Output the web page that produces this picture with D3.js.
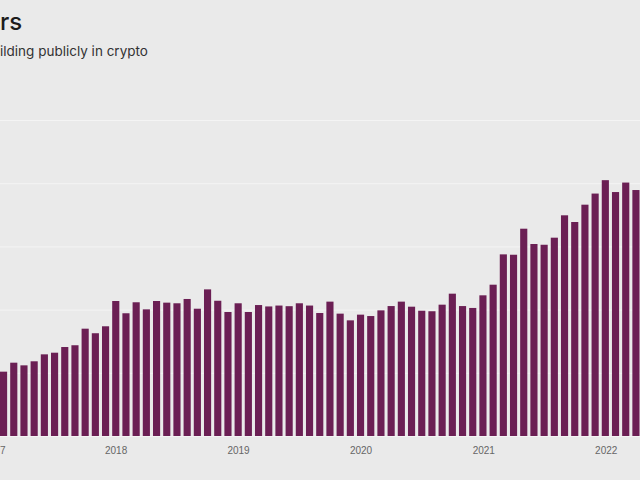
<!DOCTYPE html>
<html>
<head>
<meta charset="utf-8">
<script src="https://cdn.jsdelivr.net/npm/d3@7"></script>
<style>
  html, body { margin: 0; padding: 0; background: #eaeaea; overflow: hidden; }
  svg { display: block; font-family: Inter, "Noto Sans", sans-serif; }
</style>
</head>
<body>
<svg width="640" height="480"></svg>
<script>
// months Feb 2017 .. Apr 2022
var startMonth = "2017-02";
var developers = [
    5090, 5800, 5590, 5910, 6460, 6590, 7040, 7180, 8490, 8130, 8680,
    10680, 9710, 10580, 10020, 10680, 10550, 10500, 10840, 10070, 11600, 10700, 9810,
    10500, 9810, 10360, 10250, 10320, 10270, 10500, 10320, 9730, 10630, 9680, 9150,
    9600, 9490, 9940, 10280, 10630, 10230, 9910, 9870, 10390, 11260, 10280, 10130,
    11130, 11970, 14370, 14340, 16400, 15190, 15130, 15690, 17460, 16930, 18300, 19180,
    20240, 19300, 20050, 19460
];
var yearTicks = ["2017", "2018", "2019", "2020", "2021", "2022"];
// what is visible of each year label (2017 is cut by the left edge)
var yearLabels = ["7", "2018", "2019", "2020", "2021", "2022"];
var yTicks = [0, 5000, 10000, 15000, 20000, 25000];
var titleText = "rs";
var subtitleText = "ilding publicly in crypto";

var svg = d3.select("svg"),
    width = +svg.attr("width");

var parseMonth = d3.utcParse("%Y-%m");
var first = parseMonth(startMonth);
var months = developers.map(function (d, i) {
    return d3.utcMonth.offset(first, i);
});

var x = d3.scaleBand()
    .domain(months.map(function (d) { return +d; }))
    .range([0, 639.5])
    .paddingInner(0.3)
    .paddingOuter(0);

var y = d3.scaleLinear()
    .domain([0, 25000])
    .range([436, 120]);

// time scale for the year labels, aligned on bar centres
var xt = d3.scaleUtc()
    .domain([months[0], months[months.length - 1]])
    .range([x(+months[0]) + x.bandwidth() / 2, x(+months[months.length - 1]) + x.bandwidth() / 2]);

svg.append("g")
    .selectAll("line")
    .data(yTicks)
    .enter().append("line")
    .attr("x1", 0)
    .attr("x2", width)
    .attr("y1", function (d) { return y(d) + 0.5; })
    .attr("y2", function (d) { return y(d) + 0.5; })
    .attr("stroke", "#f4f4f4")
    .attr("stroke-width", 1);

svg.append("g")
    .selectAll("rect")
    .data(developers)
    .enter().append("rect")
    .attr("x", function (d, i) { return x(+months[i]); })
    .attr("width", x.bandwidth())
    .attr("y", function (d) { return y(d); })
    .attr("height", function (d) { return y(0) - y(d); })
    .attr("fill", "#6b1f54");

var xAxis = svg.append("g")
    .attr("transform", "translate(0," + y(0) + ")")
    .call(d3.axisBottom(xt)
        .tickValues(yearTicks.map(function (d) { return d3.utcParse("%Y")(d); }))
        .tickFormat(function (d, i) { return yearLabels[i]; })
        .tickSize(0)
        .tickPadding(11));
xAxis.select(".domain").remove();
xAxis.selectAll("text")
    .attr("fill", "#666")
    .style("font-size", "10px")
    .style("font-family", "'Liberation Sans', Arial, sans-serif");
// the cut-off first label sits flush with the left edge
xAxis.selectAll(".tick").filter(function (d, i) { return i === 0; })
    .attr("transform", "translate(0,0)")
    .select("text")
    .attr("text-anchor", "start")
    .attr("x", 0);

svg.append("text")
    .attr("x", 0)
    .attr("y", 30)
    .attr("fill", "#1c1c1c")
    .style("font-size", "24px")
    .style("font-weight", 500)
    .text(titleText);

svg.append("text")
    .attr("x", 0)
    .attr("y", 56)
    .attr("fill", "#333")
    .style("font-size", "13.5px")
    .text(subtitleText);
</script>
</body>
</html>
